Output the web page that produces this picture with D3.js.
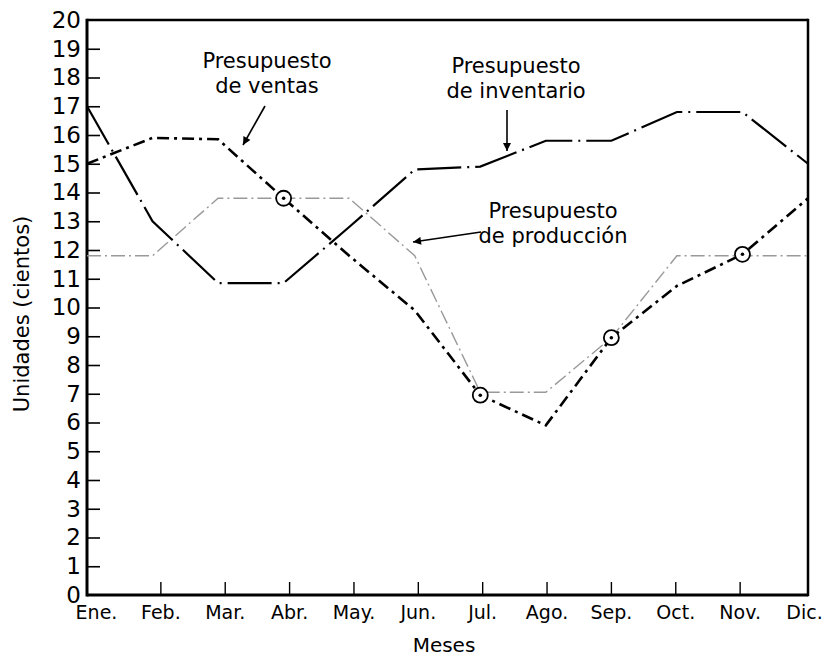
<!DOCTYPE html>
<html><head><meta charset="utf-8">
<script src="https://cdn.jsdelivr.net/npm/d3@7"></script>
<style>body{margin:0;background:#fff}svg{display:block}</style>
</head><body>
<svg id="c" width="837" height="661"></svg>
<script>
const months = ["Ene.","Feb.","Mar.","Abr.","May.","Jun.","Jul.","Ago.","Sep.","Oct.","Nov.","Dic."];
const yTicks = d3.range(0, 21);
const inventario = [17.0, 13.0, 10.85, 10.85, 12.8, 14.8, 14.9, 15.8, 15.8, 16.8, 16.8, 15.0];
const ventas     = [15.0, 15.9, 15.85, 13.8, 11.8, 9.9, 6.95, 5.9, 8.95, 10.75, 11.85, 13.8];
const produccion = [11.8, 11.8, 13.8, 13.8, 13.8, 11.8, 7.05, 7.05, 8.95, 11.8, 11.8, 11.8];
const circleMonths = ["Abr.","Jul.","Sep.","Nov."];
const annotations = [
  {lines:["Presupuesto","de ventas"]},
  {lines:["Presupuesto","de inventario"]},
  {lines:["Presupuesto","de producción"]}
];

const svg = d3.select("#c");
const L = 87, R = 808, T = 20, B = 595;
const x = d3.scalePoint().domain(months).range([L, R]);
const xLab = d3.scalePoint().domain(months).range([96, 804]);
const y = d3.scaleLinear().domain([0, 20]).range([B, T]);
const FONT = "DejaVu Sans, sans-serif";

// Y axis
const ya = svg.append("g").attr("transform", `translate(${L},0)`)
  .call(d3.axisLeft(y).tickValues(yTicks).tickFormat(d3.format("d")).tickSizeInner(-13).tickSizeOuter(0).tickPadding(6));
ya.select(".domain").remove();
ya.selectAll(".tick line").attr("stroke", "#000").attr("stroke-width", 1.6)
  .filter(d => d === 0 || d === 20).remove();
ya.selectAll(".tick text").attr("font-family", FONT).attr("font-size", 23).attr("fill", "#000");

// X axis
const xa = svg.append("g").attr("transform", `translate(0,${B})`)
  .call(d3.axisBottom(xLab).tickSizeInner(-13).tickSizeOuter(0).tickPadding(11));
xa.select(".domain").remove();
xa.selectAll(".tick line").attr("stroke", "#000").attr("stroke-width", 1.4)
  .filter(d => d === "Ene." || d === "Dic.").remove();
xa.selectAll(".tick text").attr("font-family", FONT).attr("font-size", 19).attr("fill", "#000");

// Frame
svg.append("line").attr("x1", L).attr("x2", R).attr("y1", T).attr("y2", T).attr("stroke", "#000").attr("stroke-width", 2.5);
svg.append("line").attr("x1", R).attr("x2", R).attr("y1", T - 1.2).attr("y2", B + 1.2).attr("stroke", "#000").attr("stroke-width", 2.5);
svg.append("line").attr("x1", L).attr("x2", R).attr("y1", B).attr("y2", B).attr("stroke", "#000").attr("stroke-width", 2.8);
svg.append("line").attr("x1", L).attr("x2", L).attr("y1", T - 1.2).attr("y2", B + 1.4).attr("stroke", "#000").attr("stroke-width", 3);

// Axis titles
svg.append("text").attr("x", 444).attr("y", 652).attr("text-anchor", "middle")
  .attr("font-family", FONT).attr("font-size", 20).text("Meses");
svg.append("text").attr("transform", "translate(29,314) rotate(-90)").attr("text-anchor", "middle")
  .attr("font-family", FONT).attr("font-size", 21).text("Unidades (cientos)");

// Lines
const line = d3.line().x((d, i) => x(months[i])).y(d => y(d));
svg.append("path").datum(produccion).attr("d", line).attr("fill", "none")
  .attr("stroke", "#999").attr("stroke-width", 1.4).attr("stroke-dasharray", "14,4,2,4");
svg.append("path").datum(inventario).attr("d", line).attr("fill", "none")
  .attr("stroke", "#000").attr("stroke-width", 2.2).attr("stroke-dasharray", "44,6,2,6");
svg.append("path").datum(ventas).attr("d", line).attr("fill", "none")
  .attr("stroke", "#000").attr("stroke-width", 2.6).attr("stroke-dasharray", "12,5,3,5");

// Circles
const cg = svg.append("g").selectAll("g").data(circleMonths).join("g")
  .attr("transform", m => `translate(${x(m)},${y(ventas[months.indexOf(m)])})`);
cg.append("circle").attr("r", 7.5).attr("fill", "#fff").attr("stroke", "#000").attr("stroke-width", 1.8);
cg.append("circle").attr("r", 1.8).attr("fill", "#000");

// Annotations
const annPos = [{x: 267, y: 68}, {x: 516, y: 73}, {x: 553, y: 218}];
annotations.forEach((a, k) => {
  const t = svg.append("text").attr("text-anchor", "middle").attr("font-family", FONT).attr("font-size", 21);
  a.lines.forEach((s, j) => t.append("tspan").attr("x", annPos[k].x).attr("y", annPos[k].y + j * 25).text(s));
});

// Arrows
const defs = svg.append("defs");
defs.append("marker").attr("id", "ah").attr("viewBox", "0 0 10 10").attr("refX", 10).attr("refY", 5)
  .attr("markerWidth", 12).attr("markerHeight", 8).attr("markerUnits", "userSpaceOnUse").attr("orient", "auto")
  .append("path").attr("d", "M0,0 L10,5 L0,10 Z").attr("fill", "#000");
const arrows = [[265, 106, 243, 145], [507, 110, 507, 151], [481, 232, 413, 242]];
arrows.forEach(a => svg.append("line").attr("x1", a[0]).attr("y1", a[1]).attr("x2", a[2]).attr("y2", a[3])
  .attr("stroke", "#000").attr("stroke-width", 1.6).attr("marker-end", "url(#ah)"));
</script>
</body></html>
